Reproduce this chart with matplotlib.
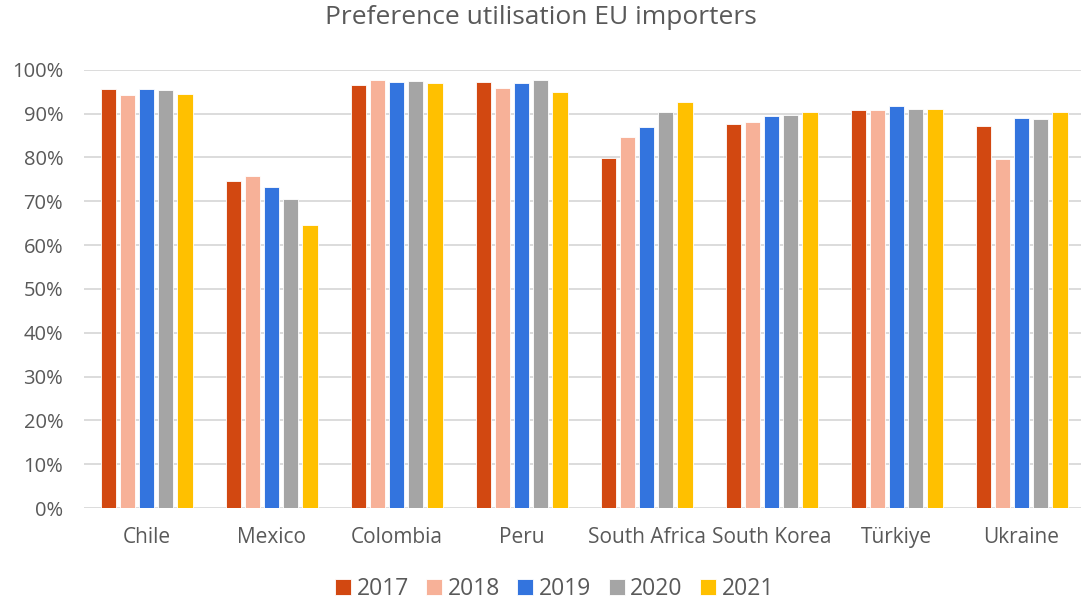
import matplotlib
matplotlib.use("Agg")
import matplotlib.pyplot as plt
import numpy as np
from matplotlib.ticker import FuncFormatter, MultipleLocator

categories = ["Chile", "Mexico", "Colombia", "Peru", "South Africa", "South Korea", "Türkiye", "Ukraine"]
years = ["2017", "2018", "2019", "2020", "2021"]
v2017 = [95.6, 74.5, 96.5, 97.2, 79.9, 87.5, 90.8, 87.2]
v2018 = [94.3, 75.8, 97.7, 95.9, 84.6, 88.0, 90.9, 79.7]
v2019 = [95.6, 73.3, 97.1, 96.9, 86.9, 89.4, 91.8, 88.9]
v2020 = [95.4, 70.5, 97.4, 97.6, 90.3, 89.7, 91.1, 88.7]
v2021 = [94.4, 64.6, 96.9, 95.0, 92.6, 90.4, 91.0, 90.4]
series = [v2017, v2018, v2019, v2020, v2021]
colors = ["#D24811", "#F7B198", "#3374DE", "#A5A5A5", "#FFC000"]

plt.rcParams['font.family'] = ['Open Sans', 'DejaVu Sans']
text_color = "#595959"

fig = plt.figure(figsize=(10.81, 6.04), dpi=100)
ax = fig.add_axes([84/1081, 1-508/604, 1000/1081, (508-69.7)/604])

x = np.arange(len(categories))
pitch = 0.1535
for i, (vals, c) in enumerate(zip(series, colors)):
    ax.bar(x + (i - 2) * pitch, vals, width=0.122, color=c, edgecolor="white",
           linewidth=0.6, label=years[i], zorder=3)

ax.set_xlim(-0.5, len(categories) - 0.5)
ax.set_ylim(0, 100)
ax.yaxis.set_major_locator(MultipleLocator(10))
ax.yaxis.set_major_formatter(FuncFormatter(lambda v, p: f"{int(round(v))}%"))
ax.grid(axis="y", color="#D9D9D9", linewidth=1.3, zorder=0)
for s in ax.spines.values():
    s.set_visible(False)
ax.tick_params(axis="y", length=0, labelsize=14.5, labelcolor=text_color, pad=15)
ax.tick_params(axis="x", length=0, labelsize=15, labelcolor=text_color, pad=14)
ax.set_xticks(x)
ax.set_xticklabels(categories)

fig.text(0.5, 1-18/604, "Preference utilisation EU importers", ha="center", va="center",
         fontsize=19, color=text_color)

leg = fig.legend(loc="center", bbox_to_anchor=(0.513, 1-589/604), ncol=5, frameon=False,
                 fontsize=16.5, labelcolor=text_color, handlelength=0.7, handleheight=0.7,
                 handletextpad=0.25, columnspacing=0.75)

fig.savefig("out.png", dpi=100)
